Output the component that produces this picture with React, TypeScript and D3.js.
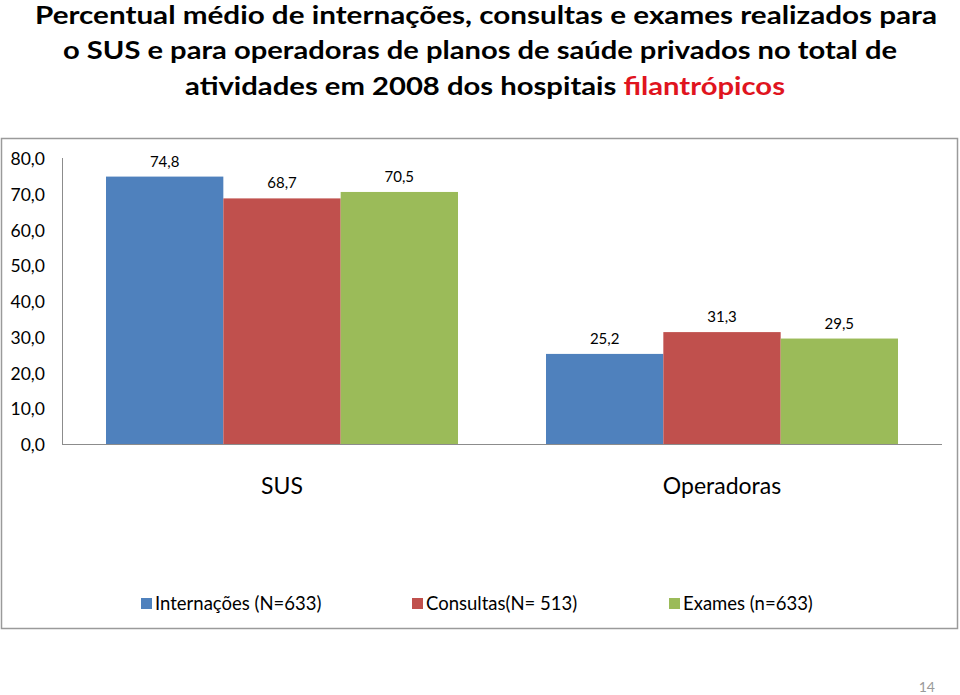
import { scaleLinear, scaleBand, range } from 'd3'

const CATEGORIES = ['SUS', 'Operadoras']
const SERIES = ['Internações (N=633)', 'Consultas(N= 513)', 'Exames (n=633)']
const INTERNACOES = [74.8, 25.2]
const CONSULTAS = [68.7, 31.3]
const EXAMES = [70.5, 29.5]
const Y_TICKS = [0, 10, 20, 30, 40, 50, 60, 70, 80]
const COLORS = ['#4F81BD', '#C0504D', '#9BBB59']

const VALUES = [INTERNACOES, CONSULTAS, EXAMES]
const fmt = (v: number) => v.toFixed(1).replace('.', ',')
const FONT = 'Lato, "Open Sans", sans-serif'

export default function App() {
  const width = 960
  const height = 695
  const plot = { left: 62, right: 942, top: 158, bottom: 444 }

  const x = scaleBand<string>()
    .domain(CATEGORIES)
    .range([plot.left, plot.right])
    .paddingInner(0.2)
    .paddingOuter(0.1)
  const inner = scaleBand<number>()
    .domain(range(SERIES.length))
    .range([0, x.bandwidth()])
  const y = scaleLinear().domain([0, 80]).range([plot.bottom, plot.top])

  const legendX = [141, 412, 669]

  return (
    <svg
      width={width}
      height={height}
      style={{ position: 'absolute', left: 0, top: 0, background: '#fff' }}
      fontFamily={FONT}
    >
      {/* Title */}
      <g fontWeight='bold' fontSize={25} textAnchor='middle' fill='#000'>
        <text x={486} y={24} textLength={902} lengthAdjust='spacingAndGlyphs'>
          Percentual médio de internações, consultas e exames realizados para
        </text>
        <text x={480} y={59} textLength={834} lengthAdjust='spacingAndGlyphs'>
          o SUS e para operadoras de planos de saúde privados no total de
        </text>
        <text x={485} y={95} textLength={600} lengthAdjust='spacingAndGlyphs'>
          atividades em 2008 dos hospitais <tspan fill='#E0141E'>filantrópicos</tspan>
        </text>
      </g>

      {/* Chart frame */}
      <rect x={1.5} y={138.5} width={956} height={490} fill='none' stroke='#9a9a9a' strokeWidth={1.5} />

      {/* Y axis */}
      <line x1={plot.left + 0.5} x2={plot.left + 0.5} y1={plot.top} y2={plot.bottom} stroke='#8c8c8c' />
      {Y_TICKS.map((t) => (
        <text key={t} x={45} y={y(t) + 1} dy='0.35em' textAnchor='end' fontSize={17.5} fill='#000'>
          {fmt(t)}
        </text>
      ))}

      {/* Bars */}
      {CATEGORIES.map((c, ci) => (
        <g key={c} transform={`translate(${x(c)},0)`}>
          {VALUES.map((vals, si) => (
            <g key={si}>
              <rect
                x={inner(si)}
                y={y(vals[ci])}
                width={inner.bandwidth()}
                height={plot.bottom - y(vals[ci])}
                fill={COLORS[si]}
              />
              <text
                x={inner(si)! + inner.bandwidth() / 2}
                y={y(vals[ci]) - 10}
                textAnchor='middle'
                fontSize={15}
                fill='#000'
              >
                {fmt(vals[ci])}
              </text>
            </g>
          ))}
          <text x={x.bandwidth() / 2} y={494} textAnchor='middle' fontSize={23} fill='#000'>
            {c}
          </text>
        </g>
      ))}

      {/* X axis */}
      <line x1={plot.left} x2={plot.right} y1={plot.bottom + 0.5} y2={plot.bottom + 0.5} stroke='#8c8c8c' />

      {/* Legend */}
      {SERIES.map((s, i) => (
        <g key={s} transform={`translate(${legendX[i]},604)`}>
          <rect x={0} y={-6} width={11} height={11} fill={COLORS[i]} />
          <text x={14} y={0} dy='0.35em' fontSize={18.5} fill='#000'>
            {s}
          </text>
        </g>
      ))}

      {/* Page number */}
      <text x={935} y={692} textAnchor='end' fontSize={14} fill='#9a9a9a'>
        14
      </text>
    </svg>
  )
}
